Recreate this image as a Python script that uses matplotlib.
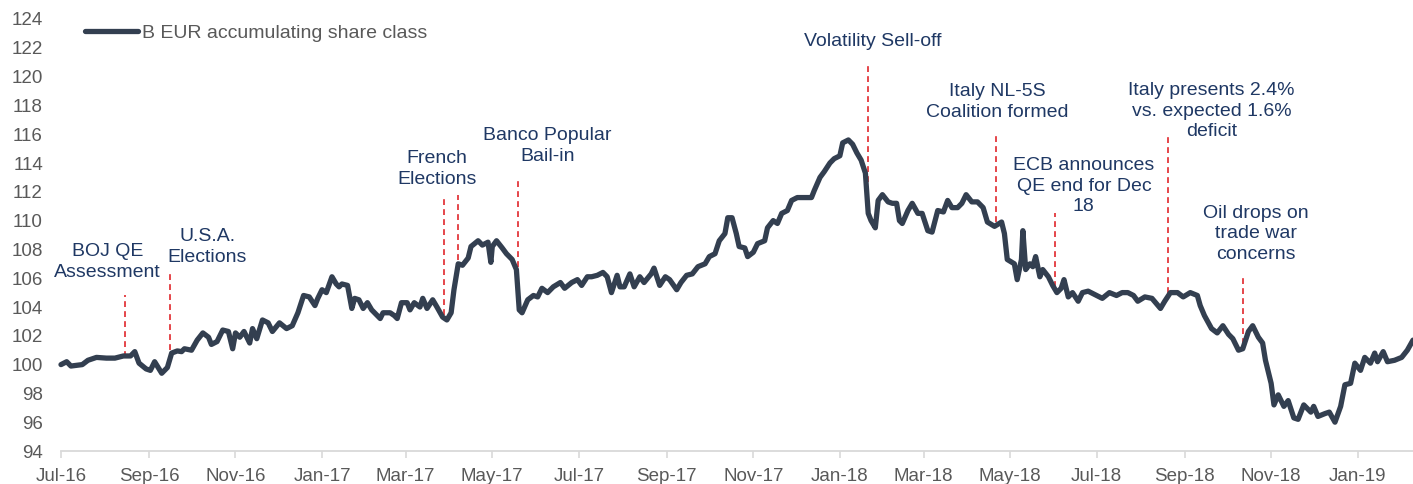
import matplotlib
matplotlib.use("Agg")
import matplotlib.pyplot as plt
import matplotlib.dates as mdates
import pandas as pd

plt.rcParams['font.family'] = ['Liberation Sans', 'DejaVu Sans']

series_name = "B EUR accumulating share class"

dates = [
    "2016-07-01", "2016-07-05", "2016-07-08", "2016-07-16", "2016-07-20", "2016-07-26",
    "2016-08-02", "2016-08-08", "2016-08-14", "2016-08-19", "2016-08-22", "2016-08-25",
    "2016-08-30", "2016-09-02", "2016-09-05", "2016-09-10", "2016-09-14", "2016-09-17",
    "2016-09-21", "2016-09-24", "2016-09-26", "2016-10-01", "2016-10-05", "2016-10-09",
    "2016-10-13", "2016-10-15", "2016-10-19", "2016-10-23", "2016-10-27", "2016-10-30",
    "2016-11-01", "2016-11-04", "2016-11-07", "2016-11-11", "2016-11-13", "2016-11-16",
    "2016-11-20", "2016-11-24", "2016-11-27", "2016-12-02", "2016-12-07", "2016-12-11",
    "2016-12-15", "2016-12-19", "2016-12-23", "2016-12-27", "2016-12-29", "2017-01-01",
    "2017-01-04", "2017-01-08", "2017-01-11", "2017-01-13", "2017-01-15", "2017-01-19",
    "2017-01-22", "2017-01-24", "2017-01-27", "2017-01-30", "2017-02-02", "2017-02-05",
    "2017-02-11", "2017-02-13", "2017-02-18", "2017-02-21", "2017-02-23", "2017-02-26",
    "2017-03-02", "2017-03-04", "2017-03-07", "2017-03-11", "2017-03-13", "2017-03-16",
    "2017-03-20", "2017-03-23", "2017-03-27", "2017-03-30", "2017-04-02", "2017-04-04",
    "2017-04-07", "2017-04-10", "2017-04-14", "2017-04-16", "2017-04-21", "2017-04-24",
    "2017-04-28", "2017-04-30", "2017-05-01", "2017-05-04", "2017-05-08", "2017-05-11",
    "2017-05-15", "2017-05-18", "2017-05-20", "2017-05-22", "2017-05-26", "2017-05-30",
    "2017-06-02", "2017-06-05", "2017-06-09", "2017-06-13", "2017-06-18", "2017-06-21",
    "2017-06-26", "2017-06-30", "2017-07-03", "2017-07-07", "2017-07-10", "2017-07-14",
    "2017-07-18", "2017-07-21", "2017-07-24", "2017-07-28", "2017-07-30", "2017-08-02",
    "2017-08-06", "2017-08-09", "2017-08-13", "2017-08-16", "2017-08-21", "2017-08-23",
    "2017-08-27", "2017-08-31", "2017-09-03", "2017-09-08", "2017-09-11", "2017-09-15",
    "2017-09-19", "2017-09-23", "2017-09-28", "2017-10-01", "2017-10-05", "2017-10-08",
    "2017-10-12", "2017-10-14", "2017-10-17", "2017-10-20", "2017-10-22", "2017-10-26",
    "2017-10-28", "2017-11-01", "2017-11-04", "2017-11-09", "2017-11-11", "2017-11-15",
    "2017-11-18", "2017-11-21", "2017-11-25", "2017-11-28", "2017-12-02", "2017-12-09",
    "2017-12-12", "2017-12-14", "2017-12-18", "2017-12-21", "2017-12-25", "2017-12-28",
    "2018-01-01", "2018-01-03", "2018-01-07", "2018-01-10", "2018-01-13", "2018-01-16",
    "2018-01-19", "2018-01-21", "2018-01-23", "2018-01-26", "2018-01-28", "2018-01-31",
    "2018-02-04", "2018-02-07", "2018-02-10", "2018-02-12", "2018-02-14", "2018-02-18",
    "2018-02-21", "2018-02-25", "2018-02-28", "2018-03-04", "2018-03-07", "2018-03-11",
    "2018-03-15", "2018-03-18", "2018-03-21", "2018-03-25", "2018-03-28", "2018-03-31",
    "2018-04-04", "2018-04-08", "2018-04-12", "2018-04-15", "2018-04-20", "2018-04-25",
    "2018-04-27", "2018-04-29", "2018-05-04", "2018-05-06", "2018-05-09", "2018-05-10",
    "2018-05-12", "2018-05-15", "2018-05-17", "2018-05-19", "2018-05-22", "2018-05-24",
    "2018-05-28", "2018-05-31", "2018-06-03", "2018-06-06", "2018-06-08", "2018-06-11",
    "2018-06-14", "2018-06-18", "2018-06-21", "2018-06-25", "2018-07-01", "2018-07-05",
    "2018-07-10", "2018-07-15", "2018-07-19", "2018-07-23", "2018-07-27", "2018-07-30",
    "2018-08-04", "2018-08-09", "2018-08-15", "2018-08-18", "2018-08-22", "2018-08-27",
    "2018-08-31", "2018-09-05", "2018-09-10", "2018-09-12", "2018-09-15", "2018-09-20",
    "2018-09-24", "2018-09-28", "2018-10-02", "2018-10-05", "2018-10-09", "2018-10-12",
    "2018-10-16", "2018-10-19", "2018-10-23", "2018-10-26", "2018-10-28", "2018-11-01",
    "2018-11-03", "2018-11-06", "2018-11-10", "2018-11-13", "2018-11-17", "2018-11-20",
    "2018-11-24", "2018-11-29", "2018-12-01", "2018-12-04", "2018-12-09", "2018-12-12",
    "2018-12-16", "2018-12-20", "2018-12-23", "2018-12-27", "2018-12-30", "2019-01-03",
    "2019-01-06", "2019-01-10", "2019-01-13", "2019-01-15", "2019-01-19", "2019-01-22",
    "2019-01-27", "2019-02-01", "2019-02-05", "2019-02-09",
]

values = [
    100.0, 100.2, 99.9, 100.0, 100.3, 100.5,
    100.45, 100.45, 100.6, 100.6, 100.9, 100.1,
    99.7, 99.6, 100.2, 99.4, 99.8, 100.8,
    100.95, 100.9, 101.1, 101.0, 101.7, 102.2,
    101.9, 101.4, 101.6, 102.4, 102.3, 101.1,
    102.2, 101.9, 102.3, 101.5, 102.5, 101.8,
    103.1, 102.9, 102.3, 102.9, 102.5, 102.7,
    103.6, 104.8, 104.7, 104.1, 104.6, 105.2,
    105.0, 106.1, 105.6, 105.4, 105.6, 105.5,
    103.9, 104.6, 104.5, 103.9, 104.3, 103.8,
    103.2, 103.6, 103.6, 103.4, 103.2, 104.3,
    104.3, 103.8, 104.3, 104.0, 104.6, 103.9,
    104.5, 104.0, 103.3, 103.1, 103.6, 105.2,
    107.0, 106.9, 107.4, 108.2, 108.6, 108.3,
    108.5, 107.1, 108.2, 108.6, 108.1, 107.7,
    107.3, 106.6, 103.8, 103.6, 104.5, 104.8,
    104.7, 105.3, 105.0, 105.4, 105.7, 105.3,
    105.7, 105.9, 105.5, 106.1, 106.1, 106.2,
    106.4, 106.1, 105.0, 106.2, 105.4, 105.4,
    106.3, 105.4, 106.1, 105.7, 106.3, 106.7,
    105.5, 106.1, 105.9, 105.2, 105.7, 106.2,
    106.3, 106.8, 107.0, 107.5, 107.7, 108.6,
    109.1, 110.2, 110.2, 109.1, 108.2, 108.1,
    107.5, 107.8, 108.4, 108.6, 109.5, 110.0,
    109.8, 110.5, 110.7, 111.4, 111.6, 111.6,
    111.6, 112.1, 113.0, 113.4, 114.0, 114.3,
    114.5, 115.4, 115.6, 115.3, 114.7, 114.2,
    113.3, 110.5, 110.0, 109.5, 111.4, 111.8,
    111.3, 111.2, 111.2, 110.0, 109.8, 110.7,
    111.2, 110.5, 110.5, 109.3, 109.2, 110.7,
    110.6, 111.4, 110.9, 110.9, 111.2, 111.8,
    111.3, 111.3, 110.9, 109.9, 109.6, 109.9,
    109.1, 107.3, 107.0, 105.9, 107.3, 109.3,
    106.6, 107.0, 106.8, 107.5, 106.1, 106.6,
    106.1, 105.5, 105.0, 105.3, 105.9, 104.7,
    105.0, 104.4, 105.0, 105.1, 104.8, 104.6,
    105.0, 104.8, 105.0, 105.0, 104.8, 104.4,
    104.7, 104.6, 103.9, 104.4, 105.0, 105.0,
    104.7, 105.0, 104.8, 104.1, 103.4, 102.5,
    102.2, 102.7, 102.1, 101.8, 101.0, 101.1,
    102.3, 102.7, 101.9, 101.5, 100.3, 98.7,
    97.2, 97.9, 97.1, 97.5, 96.3, 96.2,
    97.2, 96.7, 97.1, 96.4, 96.6, 96.7,
    96.0, 97.1, 98.6, 98.7, 100.1, 99.6,
    100.5, 100.1, 100.8, 100.2, 100.9, 100.2,
    100.3, 100.5, 101.0, 101.7,
]

# Event annotations: label, marker date, dashed line top & bottom, label anchor date & value
event_labels = [
    "BOJ QE\nAssessment", "U.S.A.\nElections", "French\nElections", None,
    "Banco Popular\nBail-in", "Volatility Sell-off", "Italy NL-5S\nCoalition formed",
    "ECB announces\nQE end for Dec\n18", "Italy presents 2.4%\nvs. expected 1.6%\ndeficit",
    "Oil drops on\ntrade war\nconcerns",
]
event_dates = ["2016-08-15", "2016-09-16", "2017-03-28", "2017-04-07", "2017-05-19",
               "2018-01-21", "2018-04-21", "2018-06-02", "2018-08-20", "2018-10-12"]
event_top = [104.8, 106.36, 111.78, 111.78, 113.03, 121.0, 116.15, 110.5, 115.9, 106.2]
event_bottom = [100.5, 101.0, 103.44, 107.26, 106.8, 112.7, 109.9, 105.4, 105.0, 101.4]
label_dates = ["2016-08-03", "2016-10-12", "2017-03-23", None, "2017-06-09",
               "2018-01-24", "2018-04-22", "2018-06-22", "2018-09-20", "2018-10-21"]
label_values = [107.13, 108.17, 113.58, None, 115.18, 122.47, 118.24, 112.4, 117.6, 109.07]

y_ticks = list(range(94, 125, 2))
x_start, x_end = "2016-07-01", "2019-02-09"

line_color = "#333F50"
red = "#E0262B"
text_color = "#1F3864"
tick_color = "#595959"

W, H = 1413, 484
fig = plt.figure(figsize=(W / 100, H / 100), dpi=100)
ax = fig.add_axes([61 / W, (H - 451) / H, (W - 61) / W, 432 / H])

d = pd.to_datetime(dates)
ax.plot(d, values, color=line_color, lw=3.8, solid_joinstyle='round',
        solid_capstyle='round', label=series_name, zorder=3, clip_on=False)

for lab, ed, yt, yb, ld, lv in zip(event_labels, event_dates, event_top, event_bottom,
                                   label_dates, label_values):
    t = pd.Timestamp(ed)
    ax.plot([t, t], [yb, yt], color=red, lw=1.2, dashes=(3.5, 2.5), zorder=2)
    if lab is not None:
        ax.text(pd.Timestamp(ld), lv, lab, ha='center', va='center', fontsize=14,
                color=text_color, linespacing=1.25)

ax.set_xlim(pd.Timestamp(x_start), pd.Timestamp(x_end))
ax.set_ylim(y_ticks[0], y_ticks[-1])
ax.set_yticks(y_ticks)
ax.xaxis.set_major_locator(mdates.MonthLocator(bymonth=[1, 3, 5, 7, 9, 11]))
ax.xaxis.set_major_formatter(mdates.DateFormatter('%b-%y'))

for s in ['top', 'right', 'left']:
    ax.spines[s].set_visible(False)
ax.spines['bottom'].set_color('#D9D9D9')
ax.spines['bottom'].set_linewidth(1.3)
ax.tick_params(axis='y', length=0, pad=13, labelsize=13.5, labelcolor=tick_color)
ax.tick_params(axis='x', length=5, width=1.2, color='#D9D9D9', pad=7,
               labelsize=13.5, labelcolor=tick_color)

leg = ax.legend(loc='upper left', bbox_to_anchor=(0.012, 1.005), frameon=False,
                handlelength=2.75, handletextpad=0.2, fontsize=14, borderaxespad=0)
for t in leg.get_texts():
    t.set_color(tick_color)

fig.savefig("out.png", dpi=100)
